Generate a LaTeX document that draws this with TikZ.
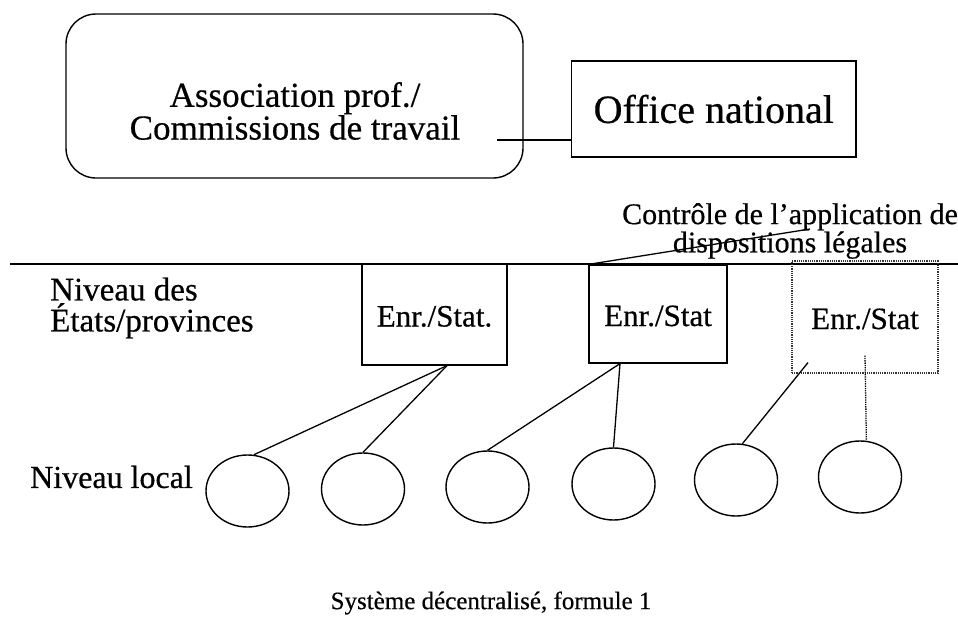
\documentclass[tikz,border=0pt]{standalone}
\usepackage{fontspec}
\setmainfont{Liberation Serif}[FakeBold=0.5]
\usetikzlibrary{shapes.geometric, positioning}

\begin{document}
\begin{tikzpicture}[
    x=1pt, y=-1pt,
    txt/.style={font=\fontsize{32}{27}\selectfont, align=center, inner sep=0pt},
    enrbox/.style={rectangle, draw, line width=1.2pt, font=\fontsize{31}{26}\selectfont, text height=31pt, text depth=7pt},
    local/.style={ellipse, draw, line width=1.4pt, minimum width=83pt, minimum height=72pt, inner sep=0pt},
    link/.style={line width=1.3pt}
]
    \useasboundingbox (0,0) rectangle (958,626);

    % National level
    \node[rectangle, draw, rounded corners=30pt, line width=1.4pt, minimum width=457pt, minimum height=164pt] (assocbox) at (294.5,96) {};
    \node[txt, font=\fontsize{35}{31}\selectfont] (assoc) at (295,111) {Association prof./\\Commissions de travail};
    \node[rectangle, draw, line width=1.3pt, anchor=west, minimum height=96pt, inner xsep=22pt, font=\fontsize{40}{40}\selectfont] (office) at (571,109) {Office national};
    \coordinate (assocend) at (497,140);
    \draw[link] (assocend) -- (assocend -| office.west);

    % Separator
    \coordinate (sepL) at (10,264);
    \coordinate (sepR) at (958,264);
    \draw[line width=1.8pt] (sepL) -- (sepR);

    % States / provinces
    \node[txt, font=\fontsize{33}{31}\selectfont, align=left, anchor=west] (niveauetat) at (50,308) {Niveau des\\États/provinces};
    \node[enrbox, minimum width=145pt, minimum height=101pt] (stat1) at (434.5,314.5) {Enr./Stat.};
    \node[enrbox, minimum width=138pt, minimum height=98pt] (stat2) at (658,314) {Enr./Stat};
    \node[enrbox, densely dotted, draw=black!80, minimum width=146pt, minimum height=112pt] (stat3) at (865,317) {Enr./Stat};

    % Control label
    \node[txt, font=\fontsize{30}{27}\selectfont] (controle) at (790,231) {Contrôle de l’application de\\dispositions légales};
    \coordinate (ctlptr) at (810,229);
    \draw[link] (stat2.north west) -- (ctlptr);

    % Local level
    \node[txt, anchor=west] (niveaulocal) at (30,477) {Niveau local};
    \node[local] (loc1) at (247.5,491) {};
    \node[local] (loc2) at (363,489) {};
    \node[local] (loc3) at (487.5,487) {};
    \node[local] (loc4) at (613.5,484) {};
    \node[local] (loc5) at (736,480) {};
    \node[local] (loc6) at (860,477) {};

    % Lines
    \draw[link] ([xshift=12.5pt]stat1.south) -- (loc1.80);
    \draw[link] ([xshift=12.5pt]stat1.south) -- (loc2.north);
    \draw[link] ([xshift=-38pt]stat2.south) -- (loc3.north);
    \draw[link] ([xshift=-38pt]stat2.south) -- (loc4.north);
    \draw[link] ([xshift=-57pt,yshift=11pt]stat3.south) -- (loc5.80);
    \draw[link, densely dotted] ([yshift=18pt]stat3.south) -- (loc6.80);

    % Caption
    \node[txt, font=\fontsize{25}{25}\selectfont] (caption) at (491,603) {Système décentralisé, formule 1};
\end{tikzpicture}
\end{document}
